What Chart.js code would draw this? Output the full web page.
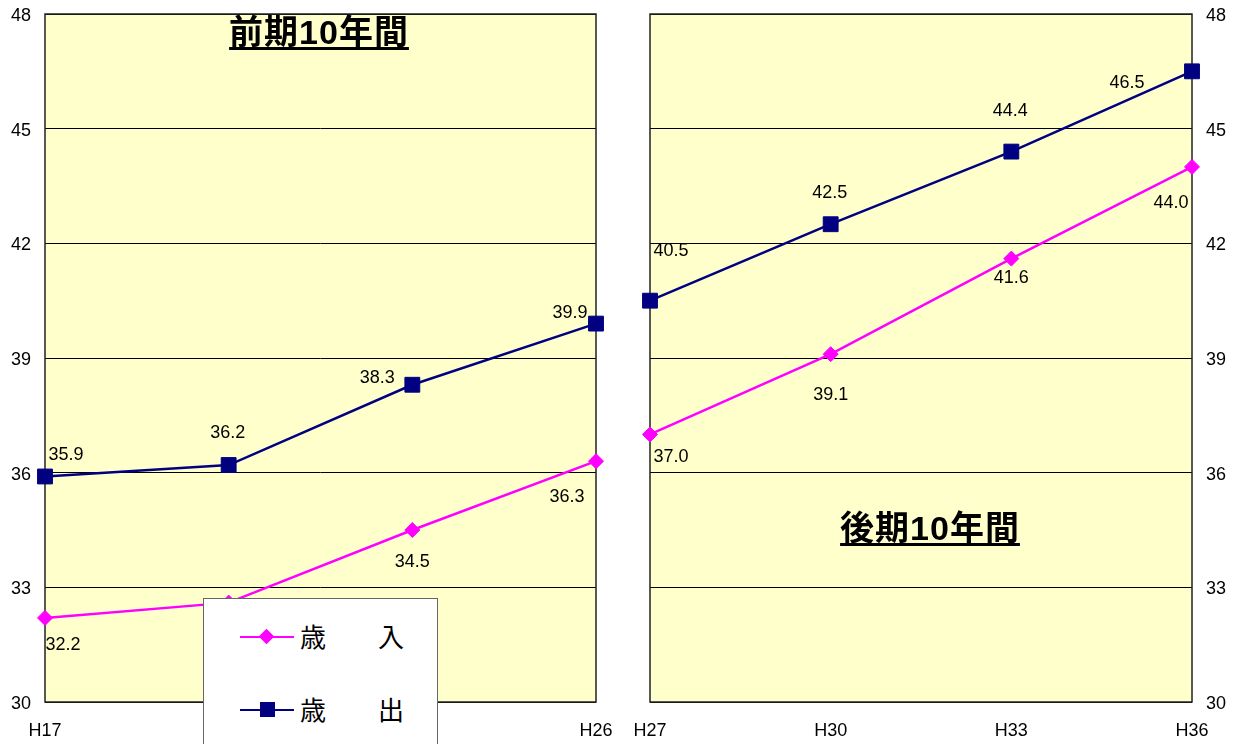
<!DOCTYPE html>
<html lang="ja">
<head>
<meta charset="utf-8">
<title>歳入・歳出の推移</title>
<script src="https://cdn.jsdelivr.net/npm/chart.js@4.4.1/dist/chart.umd.min.js"></script>
<style>
  html, body { margin: 0; padding: 0; background: #fff; }
  #wrap { position: relative; width: 1235px; height: 744px; overflow: hidden; }
  #chart-first { position: absolute; left: 0; top: 0; }
  #chart-second { position: absolute; left: 620px; top: 0; }
  .period-title {
    position: absolute;
    font-family: "Liberation Sans", "Noto Sans CJK JP", sans-serif;
    font-weight: 700;
    font-size: 34px;
    letter-spacing: 1px;
    text-decoration: underline;
    text-decoration-thickness: 3px;
    text-underline-offset: 3px;
    line-height: 1;
    white-space: nowrap;
    transform: translateX(-50%);
    color: #000;
  }
  #legend {
    position: absolute;
    left: 203px; top: 598px;
    width: 233px; height: 160px;
    background: #fff;
    border: 1px solid #666;
  }
  .legend-item { position: absolute; left: 36px; height: 30px; width: 190px; }
  .legend-line { position: absolute; left: 0; top: 14px; width: 54px; height: 2px; }
  .legend-marker { position: absolute; }
  .legend-text {
    position: absolute; left: 60px; top: -2px;
    font-family: "Noto Sans CJK JP", sans-serif;
    font-size: 26px; line-height: 32px; color: #000; white-space: pre;
  }
</style>
</head>
<body>
<div id="wrap">
  <canvas id="chart-first" width="620" height="744"></canvas>
  <canvas id="chart-second" width="615" height="744"></canvas>
  <div class="period-title" style="left:319px; top:15px;">前期10年間</div>
  <div class="period-title" style="left:930px; top:511px;">後期10年間</div>
  <div id="legend"></div>
</div>
<script>
// Fiscal years on each panel
const yearsFirst = ['H17', 'H20', 'H23', 'H26'];
const yearsSecond = ['H27', 'H30', 'H33', 'H36'];

// Revenue (歳入) and expenditure (歳出)
const revenueFirst = [32.2, 32.6, 34.5, 36.3];
const spendingFirst = [35.9, 36.2, 38.3, 39.9];
const revenueSecond = [37.0, 39.1, 41.6, 44.0];
const spendingSecond = [40.5, 42.5, 44.4, 46.5];

// Shared value axis
const yMin = 30;
const yMax = 48;
const yStep = 3;

const seriesNames = ['歳　　入', '歳　　出'];

// Look of the two series
const revenueColor = '#FF00FF';
const spendingColor = '#000080';
const plotFill = '#FFFFCC';
const tickFont = { family: '"Liberation Sans", Arial, sans-serif', size: 18 };

// Where each value label sits relative to its point [dx, dy]
const revenueLabelShiftFirst = [[18, 27], [0, 28], [0, 32], [-29, 36]];
const spendingLabelShiftFirst = [[21, -21], [-1, -32], [-35, -7], [-26, -11]];
const revenueLabelShiftSecond = [[21, 23], [0, 41], [0, 19], [-21, 36]];
const spendingLabelShiftSecond = [[21, -50], [-1, -31], [-1, -41], [-65, 12]];

// Yellow plot area with a dark frame
const plotBackground = {
  id: 'plotBackground',
  beforeDraw(chart) {
    const { ctx, chartArea: a } = chart;
    ctx.save();
    ctx.fillStyle = plotFill;
    ctx.fillRect(a.left, a.top, a.right - a.left, a.bottom - a.top);
    ctx.restore();
  },
  beforeDatasetsDraw(chart) {
    const { ctx, chartArea: a } = chart;
    ctx.save();
    ctx.strokeStyle = '#222';
    ctx.lineWidth = 1.5;
    ctx.strokeRect(a.left, a.top, a.right - a.left, a.bottom - a.top);
    ctx.restore();
  }
};

// Value labels next to every point
const valueLabels = {
  id: 'valueLabels',
  afterDatasetsDraw(chart) {
    const { ctx } = chart;
    const shifts = chart.options.plugins.valueLabels.shifts;
    ctx.save();
    ctx.font = '18px "Liberation Sans", Arial, sans-serif';
    ctx.fillStyle = '#000';
    ctx.textAlign = 'center';
    ctx.textBaseline = 'middle';
    chart.data.datasets.forEach((ds, di) => {
      chart.getDatasetMeta(di).data.forEach((pt, i) => {
        const [dx, dy] = shifts[di][i];
        ctx.fillText(ds.data[i].toFixed(1), pt.x + dx, pt.y + dy);
      });
    });
    ctx.restore();
  }
};

// Let layout.padding alone decide where the plot area sits
function dropScalePadding(scale) {
  scale.paddingLeft = 0;
  scale.paddingRight = 0;
  scale.paddingTop = 0;
  scale.paddingBottom = 0;
}

function makeDatasets(revenue, spending) {
  return [
    {
      label: seriesNames[0],
      data: revenue,
      borderColor: revenueColor,
      backgroundColor: revenueColor,
      borderWidth: 2.5,
      pointStyle: 'rectRot',
      pointRadius: 7.5,
      pointBorderWidth: 1,
      tension: 0,
      clip: false
    },
    {
      label: seriesNames[1],
      data: spending,
      borderColor: spendingColor,
      backgroundColor: spendingColor,
      borderWidth: 2.5,
      pointStyle: 'rect',
      pointRadius: 10.5,
      pointBorderWidth: 1,
      tension: 0,
      clip: false
    }
  ];
}

function makeChart(canvasId, years, revenue, spending, side, shifts, padding, axisWidth) {
  return new Chart(document.getElementById(canvasId), {
    type: 'line',
    data: { labels: years, datasets: makeDatasets(revenue, spending) },
    options: {
      responsive: false,
      animation: false,
      layout: { padding: padding },
      plugins: {
        legend: { display: false },
        tooltip: { enabled: false },
        valueLabels: { shifts: shifts }
      },
      scales: {
        x: {
          offset: false,
          grid: { display: false, drawTicks: false },
          border: { display: false },
          ticks: {
            color: '#000',
            font: tickFont,
            padding: 18,
            autoSkip: false,
            maxRotation: 0
          },
          afterFit(scale) {
            scale.height = 42;
            dropScalePadding(scale);
          }
        },
        y: {
          position: side,
          min: yMin,
          max: yMax,
          grid: { color: '#000', lineWidth: 1, drawTicks: false },
          border: { display: false },
          ticks: {
            stepSize: yStep,
            color: '#000',
            font: tickFont,
            padding: 14,
            labelOffset: 2
          },
          afterFit(scale) {
            scale.width = axisWidth;
            dropScalePadding(scale);
          }
        }
      }
    },
    plugins: [plotBackground, valueLabels]
  });
}

makeChart('chart-first', yearsFirst, revenueFirst, spendingFirst, 'left',
  [revenueLabelShiftFirst, spendingLabelShiftFirst],
  { top: 14, right: 24, left: 0, bottom: 0 }, 45);

makeChart('chart-second', yearsSecond, revenueSecond, spendingSecond, 'right',
  [revenueLabelShiftSecond, spendingLabelShiftSecond],
  { top: 14, right: 0, left: 30, bottom: 0 }, 43);

// Legend box drawn over the lower part of the first panel
const legend = document.getElementById('legend');
[
  { name: seriesNames[0], color: revenueColor, diamond: true, top: 23 },
  { name: seriesNames[1], color: spendingColor, diamond: false, top: 96 }
].forEach(item => {
  const row = document.createElement('div');
  row.className = 'legend-item';
  row.style.top = item.top + 'px';

  const line = document.createElement('div');
  line.className = 'legend-line';
  line.style.background = item.color;
  row.appendChild(line);

  const marker = document.createElement('div');
  marker.className = 'legend-marker';
  marker.style.background = item.color;
  if (item.diamond) {
    marker.style.width = '11px';
    marker.style.height = '11px';
    marker.style.left = '21px';
    marker.style.top = '9px';
    marker.style.transform = 'rotate(45deg)';
  } else {
    marker.style.width = '15px';
    marker.style.height = '15px';
    marker.style.left = '20px';
    marker.style.top = '7px';
  }
  row.appendChild(marker);

  const text = document.createElement('div');
  text.className = 'legend-text';
  text.textContent = item.name;
  row.appendChild(text);

  legend.appendChild(row);
});
</script>
</body>
</html>
